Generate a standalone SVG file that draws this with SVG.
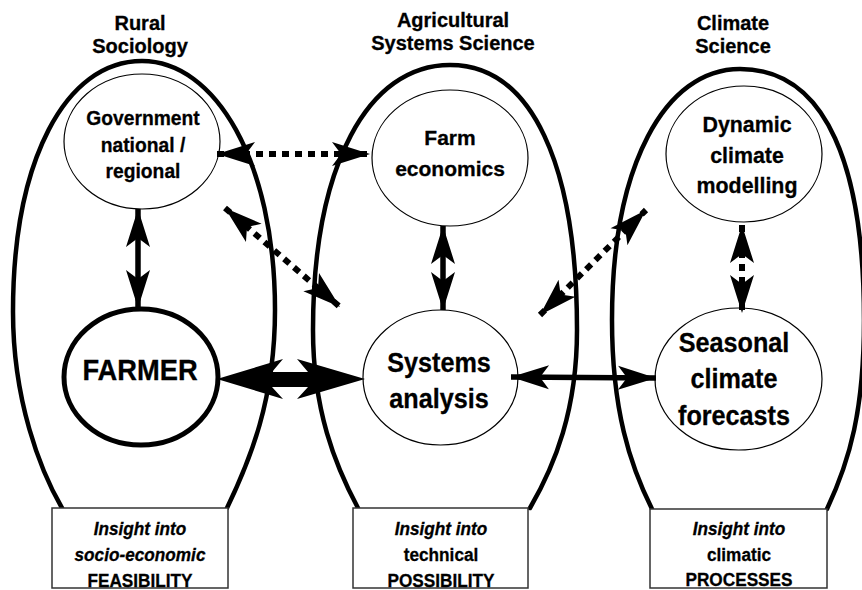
<svg xmlns="http://www.w3.org/2000/svg" width="862" height="590" viewBox="0 0 862 590">
<style>
.bg{fill:#fff}
.outline{fill:none;stroke:#000;stroke-width:4.5;stroke-linecap:round}
.node{fill:#fff;stroke:#000;stroke-width:1.2}
.farmer{fill:#fff;stroke:#000;stroke-width:5}
.box{fill:#fff;stroke:#333;stroke-width:1.5}
text{font-family:"Liberation Sans",Arial,sans-serif;font-weight:bold;fill:#000;stroke:#000;stroke-width:0.3;text-anchor:middle}
.hdr{font-size:20px}
.bx{font-size:18.5px}
.it{font-style:italic}
.solid{fill:none;stroke:#000;stroke-width:5.5}
.dot{fill:none;stroke:#000;stroke-width:6;stroke-dasharray:7 6}
</style>
<defs>
<marker id="ah" markerUnits="userSpaceOnUse" markerWidth="42" markerHeight="30" viewBox="-40 -15 42 30" refX="0" refY="0" orient="auto-start-reverse">
<path d="M0,0 L-38,-12 L-29,0 L-38,12 Z" fill="#000"/>
</marker>
</defs>
<rect class="bg" x="0" y="0" width="862" height="590"/>

<g id="domain-rural">
<path class="outline" d="M62,508 C40,470 13,400 13,312 C13,161 65,61 142,61 C215,61 275,161 275,310 C275,400 250,460 227,508"/>
<text class="hdr" x="140" y="30">Rural</text>
<text class="hdr" x="140" y="53">Sociology</text>
</g>
<g id="domain-ag">
<path class="outline" d="M358,508 C335,465 313,410 313,330 C313,165 368,65 450,65 C532,65 577,165 577,330 C577,410 555,465 530,508"/>
<text class="hdr" x="453" y="27">Agricultural</text>
<text class="hdr" x="453" y="50">Systems Science</text>
</g>
<g id="domain-climate">
<path class="outline" d="M652,509 C630,465 612,410 612,320 C612,165 665,69 740,69 C828,69 864,170 864,320 C864,410 850,460 827,509"/>
<text class="hdr" x="733" y="30">Climate</text>
<text class="hdr" x="733" y="53">Science</text>
</g>

<g id="box-rural">
<rect class="box" x="52" y="508" width="176" height="80"/>
<text class="bx it" transform="translate(140,0) scale(0.93,1)" x="0" y="535">Insight into</text>
<text class="bx it" transform="translate(140,0) scale(0.93,1)" x="0" y="561">socio-economic</text>
<text class="bx" transform="translate(140,0) scale(0.93,1)" x="0" y="587">FEASIBILITY</text>
</g>
<g id="box-ag">
<rect class="box" x="353" y="508" width="175" height="80"/>
<text class="bx it" transform="translate(441,0) scale(0.93,1)" x="0" y="535">Insight into</text>
<text class="bx" transform="translate(441,0) scale(0.93,1)" x="0" y="561">technical</text>
<text class="bx" transform="translate(441,0) scale(0.93,1)" x="0" y="587">POSSIBILITY</text>
</g>
<g id="box-climate">
<rect class="box" x="650" y="509" width="177" height="79"/>
<text class="bx it" transform="translate(739,0) scale(0.93,1)" x="0" y="535">Insight into</text>
<text class="bx" transform="translate(739,0) scale(0.93,1)" x="0" y="561">climatic</text>
<text class="bx" transform="translate(739,0) scale(0.93,1)" x="0" y="586">PROCESSES</text>
</g>

<g id="government">
<ellipse class="node" cx="142" cy="141.5" rx="78" ry="67.5"/>
<g font-size="20.5">
<text transform="translate(143,0) scale(0.94,1)" x="0" y="125">Government</text>
<text transform="translate(143,0) scale(0.94,1)" x="0" y="152.5">national /</text>
<text transform="translate(143,0) scale(0.94,1)" x="0" y="178">regional</text>
</g>
</g>
<g id="farm-economics">
<ellipse class="node" cx="450" cy="158" rx="78" ry="68"/>
<g font-size="21">
<text x="450" y="145">Farm</text>
<text x="450" y="176">economics</text>
</g>
</g>
<g id="dynamic-climate">
<ellipse class="node" cx="744" cy="154" rx="78" ry="68"/>
<g font-size="23">
<text transform="translate(747,0) scale(0.93,1)" x="0" y="132">Dynamic</text>
<text transform="translate(747,0) scale(0.93,1)" x="0" y="163">climate</text>
<text transform="translate(747,0) scale(0.93,1)" x="0" y="193">modelling</text>
</g>
</g>
<g id="farmer">
<ellipse class="farmer" cx="141" cy="377" rx="77" ry="68"/>
<text font-size="30" transform="translate(140,0) scale(0.91,1)" x="0" y="380">FARMER</text>
</g>
<g id="systems-analysis">
<ellipse class="node" cx="440.5" cy="377.5" rx="77.5" ry="67.5"/>
<g font-size="28">
<text transform="translate(439,0) scale(0.9,1)" x="0" y="372">Systems</text>
<text transform="translate(439,0) scale(0.9,1)" x="0" y="408">analysis</text>
</g>
</g>
<g id="seasonal-forecasts">
<ellipse class="node" cx="738.5" cy="379" rx="83.5" ry="71"/>
<g font-size="28">
<text transform="translate(734,0) scale(0.9,1)" x="0" y="352">Seasonal</text>
<text transform="translate(734,0) scale(0.9,1)" x="0" y="388">climate</text>
<text transform="translate(734,0) scale(0.9,1)" x="0" y="425">forecasts</text>
</g>
</g>

<g id="connectors">
<line class="dot" x1="217" y1="154" x2="370" y2="154" marker-start="url(#ah)" marker-end="url(#ah)"/>
<line class="dot" x1="225" y1="208" x2="340" y2="307" marker-start="url(#ah)" marker-end="url(#ah)"/>
<line class="dot" x1="540" y1="315" x2="646" y2="210" marker-start="url(#ah)" marker-end="url(#ah)"/>
<line class="dot" x1="742" y1="225" x2="742" y2="313" marker-start="url(#ah)" marker-end="url(#ah)"/>
<line class="solid" x1="138" y1="209" x2="138" y2="308" marker-start="url(#ah)" marker-end="url(#ah)"/>
<line class="solid" x1="443" y1="226" x2="443" y2="310" marker-start="url(#ah)" marker-end="url(#ah)"/>
<line class="solid" x1="511" y1="377" x2="656" y2="378" marker-start="url(#ah)" marker-end="url(#ah)"/>
<polygon fill="#000" points="217,379 283,359 272,372 308,372 297,359 365,379 297,399 308,387 272,387 283,399"/>
</g>
</svg>
